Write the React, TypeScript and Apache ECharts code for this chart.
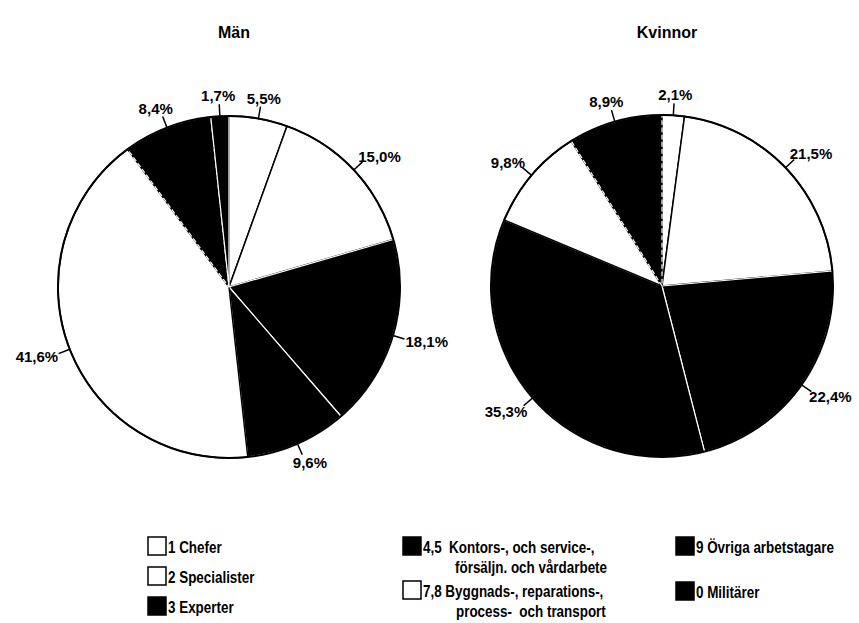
import React, { useEffect, useRef } from "react";
import * as echarts from "echarts";

// ---- data ----
const categories = [
  "1 Chefer",
  "2 Specialister",
  "3 Experter",
  "4,5 Kontors-, och service-, försäljn. och vårdarbete",
  "7,8 Byggnads-, reparations-, process- och transport",
  "9 Övriga arbetstagare",
  "0 Militärer",
];
const legendLine1 = [
  "1 Chefer",
  "2 Specialister",
  "3 Experter",
  "4,5  Kontors-, och service-,",
  "7,8 Byggnads-, reparations-,",
  "9 Övriga arbetstagare",
  "0 Militärer",
];
const legendLine2 = ["", "", "", "försäljn. och vårdarbete", "process-  och transport", "", ""];
const menValues = [5.5, 15.0, 18.1, 9.6, 41.6, 8.4, 1.7];
const womenValues = [2.1, 21.5, 22.4, 35.3, 9.8, 8.9, 0];
const pieTitles = ["Män", "Kvinnor"];

// ---- styles / layout ----
const fills = ["#ffffff", "#ffffff", "#000000", "#000000", "#ffffff", "#000000", "#000000"];
const FONT = "'Liberation Sans', Arial, sans-serif";
const centers: [number, number][] = [
  [229, 287],
  [662, 286],
];
const R = 171;
const LEADER = 12;
const legendPos: [number, number][] = [
  [148, 537],
  [148, 567],
  [148, 597],
  [403, 537],
  [403, 581],
  [676, 537],
  [676, 582],
];
const legendLine2X = [0, 0, 0, 455, 456, 0, 0];
const TEXT_SCALE = 0.79;

function itemStyleFor(i: number) {
  const black = fills[i] === "#000000";
  return {
    color: fills[i],
    borderColor: black ? "#ffffff" : "#000000",
    borderWidth: black ? 1.2 : 1.5,
    borderType: i === 5 ? ("dashed" as const) : ("solid" as const),
  };
}

function buildPie(values: number[], center: [number, number]) {
  const data = values
    .map((v, i) => ({ name: categories[i], value: v, itemStyle: itemStyleFor(i) }))
    .filter((d) => d.value > 0);
  return {
    type: "pie",
    center,
    radius: [0, R],
    startAngle: 90,
    clockwise: true,
    avoidLabelOverlap: false,
    silent: true,
    data,
    label: {
      show: true,
      position: "outside",
      overflow: "none",
      formatter: (p: any) => p.value.toFixed(1).replace(".", ",") + "%",
      fontFamily: FONT,
      fontSize: 15,
      fontWeight: "bold",
      color: "#000",
      distanceToLabelLine: 2,
    },
    labelLine: {
      show: true,
      length: LEADER,
      length2: 0,
      smooth: false,
      lineStyle: { color: "#000", width: 1.5 },
    },
    labelLayout: (params: any) => {
      const pts = params.labelLinePoints;
      const rect = params.labelRect;
      if (!pts || pts.length < 2 || !rect) return {};
      const p0 = pts[0];
      let dx = p0[0] - center[0];
      let dy = p0[1] - center[1];
      const len = Math.sqrt(dx * dx + dy * dy) || 1;
      dx /= len;
      dy /= len;
      const end = [center[0] + dx * (R + LEADER), center[1] + dy * (R + LEADER)];
      const start = [center[0] + dx * R, center[1] + dy * R];
      const w = rect.width;
      const h = rect.height;
      const cx = end[0] + dx * (w / 2 + 2);
      const cy = end[1] + dy * (h / 2 + 1);
      return {
        x: cx,
        y: cy,
        align: "center",
        verticalAlign: "middle",
        labelLinePoints: [start, end, end],
      };
    },
  };
}

function buildOutline(center: [number, number]) {
  return {
    type: "pie",
    center,
    radius: [0, R],
    silent: true,
    z: 5,
    label: { show: false },
    labelLine: { show: false },
    data: [{ value: 1, itemStyle: { color: "rgba(0,0,0,0)", borderColor: "#000", borderWidth: 2 } }],
  };
}

function legendText(text: string, x: number, y: number) {
  return {
    type: "text",
    x,
    y,
    scaleX: TEXT_SCALE,
    style: {
      text,
      fontFamily: FONT,
      fontSize: 17,
      fontWeight: "bold",
      fill: "#000",
      verticalAlign: "middle",
      textAlign: "left",
    },
  };
}

export default function App() {
  const ref = useRef<HTMLDivElement>(null);
  useEffect(() => {
    if (!ref.current) return;
    const chart = echarts.init(ref.current, null, { renderer: "svg" });
    const graphics: any[] = [];
    categories.forEach((_, i) => {
      const [x, y] = legendPos[i];
      graphics.push({
        type: "rect",
        shape: { x, y, width: 18, height: 18 },
        style: { fill: fills[i], stroke: "#000", lineWidth: 1.5 },
      });
      graphics.push(legendText(legendLine1[i], x + 20, y + 10));
      if (legendLine2[i]) {
        graphics.push(legendText(legendLine2[i], legendLine2X[i], y + 30));
      }
    });
    chart.setOption({
      animation: false,
      backgroundColor: "#ffffff",
      title: pieTitles.map((t, i) => ({
        text: t,
        left: centers[i][0],
        top: 19,
        textAlign: "center",
        textStyle: { fontFamily: FONT, fontSize: 16, fontWeight: "bold", color: "#000" },
      })),
      series: [
        buildPie(menValues, centers[0]),
        buildPie(womenValues, centers[1]),
        buildOutline(centers[0]),
        buildOutline(centers[1]),
      ],
      graphic: graphics,
    });
    return () => chart.dispose();
  }, []);
  return (
    <div
      ref={ref}
      style={{ position: "fixed", left: 0, top: 0, width: 859, height: 623, background: "#fff" }}
    />
  );
}
